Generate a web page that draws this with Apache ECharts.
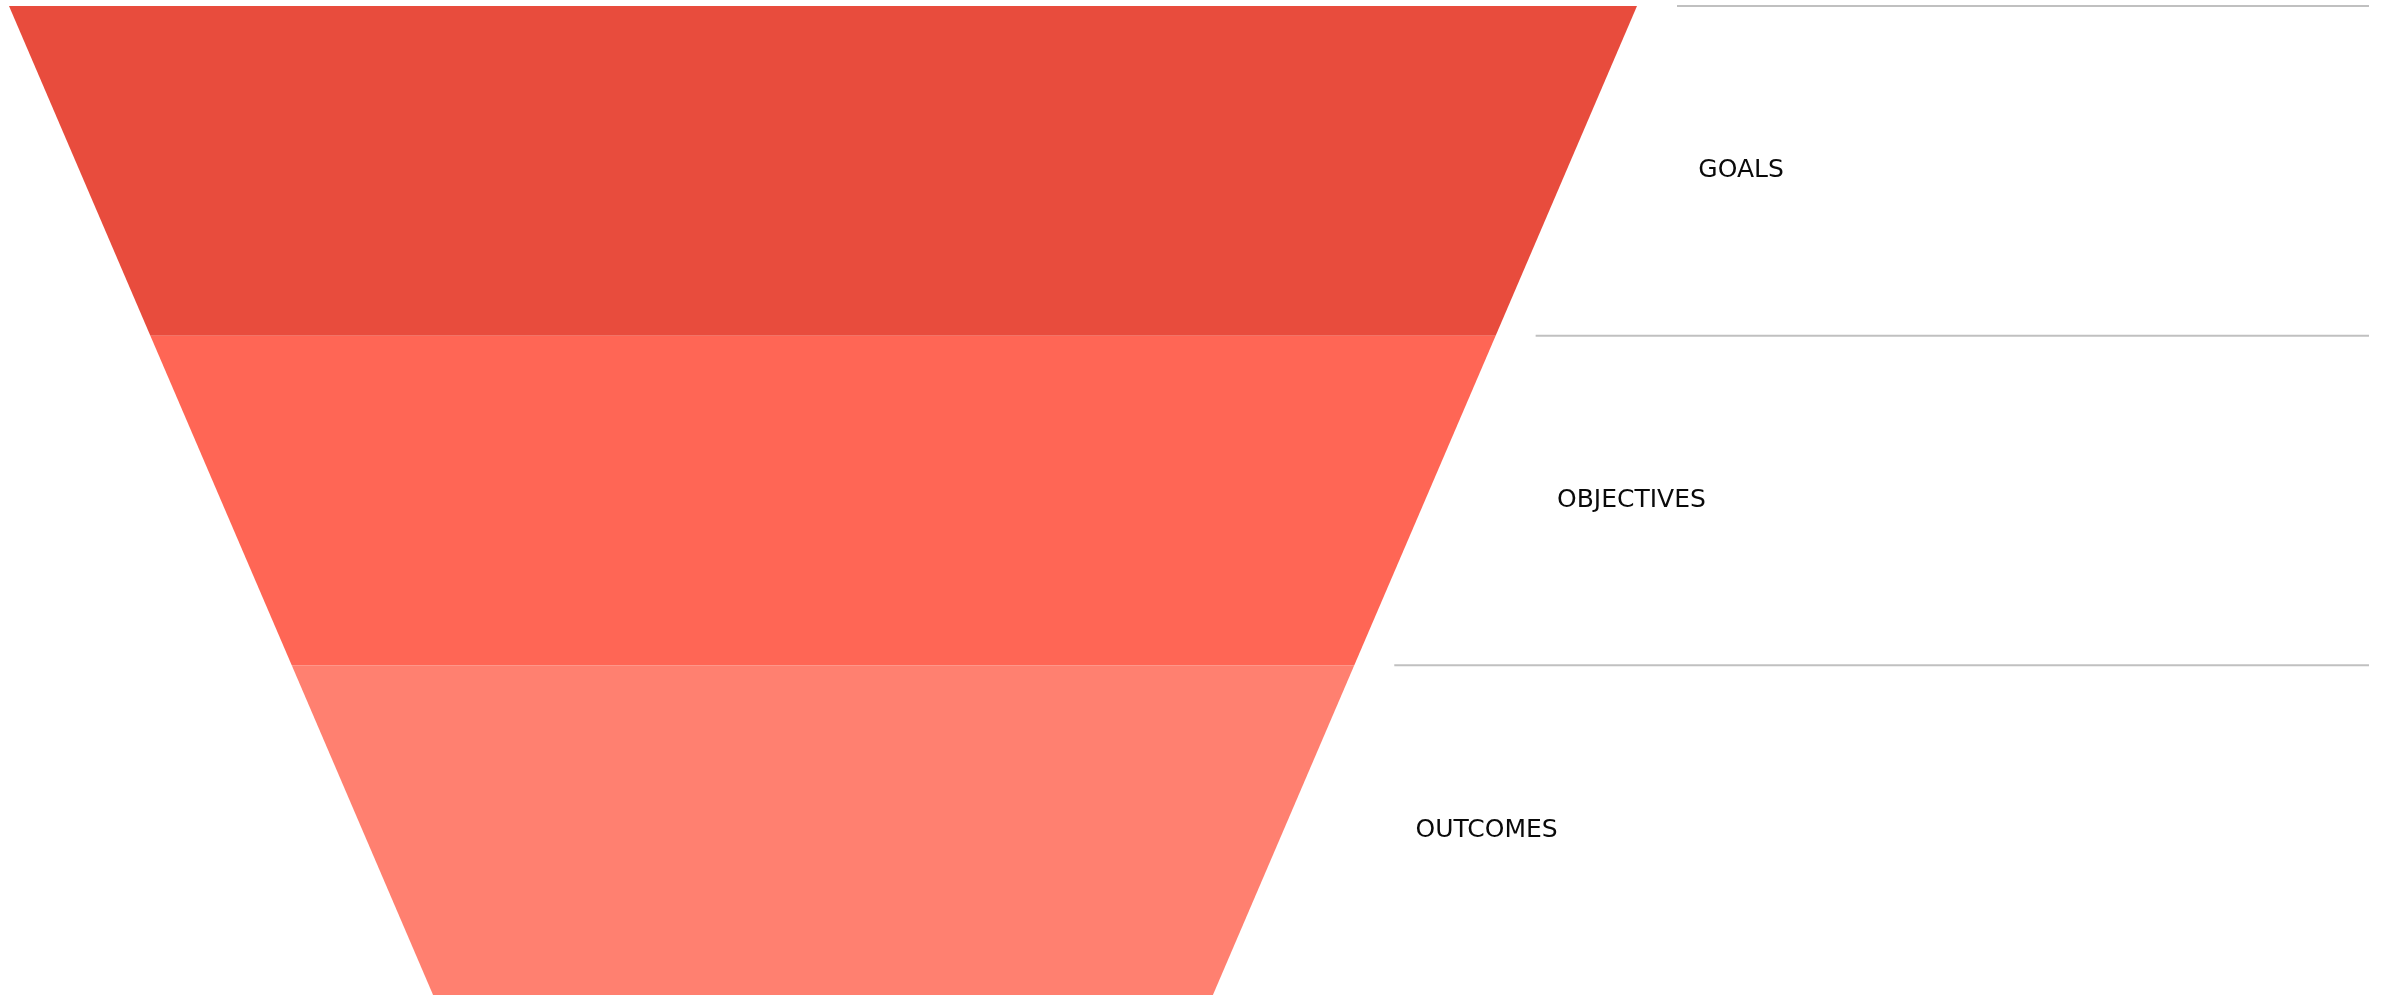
<!DOCTYPE html>
<html>
<head>
<meta charset="utf-8">
<script src="https://cdn.jsdelivr.net/npm/echarts@6/dist/echarts.min.js"></script>
<style>
html,body{margin:0;padding:0;background:#fff;}
#chart{width:2392px;height:997px;}
</style>
</head>
<body>
<div id="chart"></div>
<script>
var categories = ['GOALS', 'OBJECTIVES', 'OUTCOMES'];
var values = [3, 2, 1];
var colors = ['#E84C3D', '#FF6655', '#FF8070'];

var chart = echarts.init(document.getElementById('chart'), null, {renderer: 'canvas'});
var chartWidth = 2392;

chart.setOption({
  animation: false,
  backgroundColor: '#ffffff',
  series: [{
    type: 'funnel',
    left: 9,
    top: 6,
    width: 1628,
    height: 989,
    min: 0,
    max: 3,
    minSize: '47.9%',
    maxSize: '100%',
    sort: 'descending',
    gap: 0,
    label: {
      show: true,
      position: 'right',
      fontFamily: '"DejaVu Sans", sans-serif',
      fontSize: 25,
      color: '#0a0a0a'
    },
    labelLine: {
      show: true,
      length: 127,
      lineStyle: { color: '#c0c0c0', width: 2 }
    },
    itemStyle: { borderWidth: 0 },
    emphasis: { disabled: true },
    labelLayout: function (params) {
      var r = params.rect;
      var y = r.y;
      return {
        labelLinePoints: [[r.x + r.width + 40, y], [chartWidth - 23, y]]
      };
    },
    data: categories.map(function (c, i) {
      return { name: c, value: values[i], itemStyle: { color: colors[i] } };
    })
  }]
});
</script>
</body>
</html>
